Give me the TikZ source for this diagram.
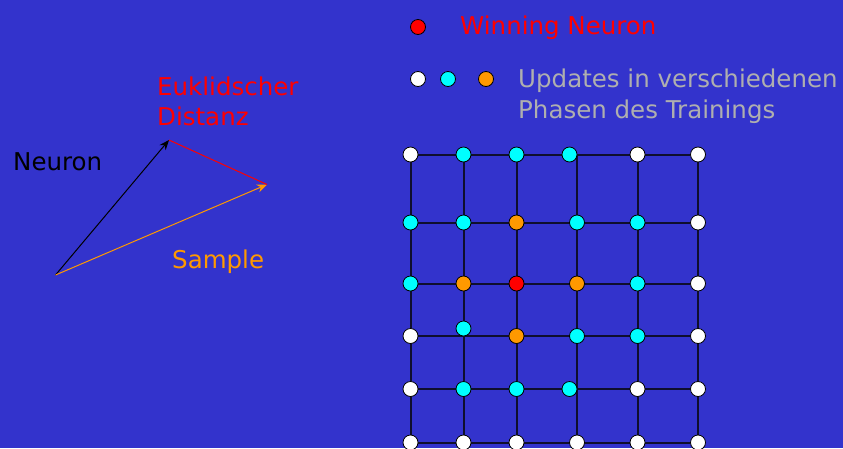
\documentclass[tikz,border=0pt]{standalone}
\usepackage{fontspec}
\setmainfont{DejaVu Sans}
\usetikzlibrary{arrows.meta}
\definecolor{bg}{RGB}{51,51,204}
\definecolor{gridc}{RGB}{15,15,45}
\definecolor{orng}{RGB}{255,153,0}
\definecolor{cyn}{RGB}{0,255,255}
\definecolor{txtgray}{RGB}{175,175,175}
\begin{document}
\begin{tikzpicture}[x=1pt,y=-1pt,
  neuron/.style={circle,draw=black,line width=0.8pt,minimum size=15pt,inner sep=0pt},
  wn/.style={neuron,fill=white},
  cn/.style={neuron,fill=cyn},
  on/.style={neuron,fill=orng},
  rn/.style={neuron,fill=red},
  gline/.style={draw=gridc,line width=2pt},
  lbl/.style={anchor=base west,inner sep=0pt,font=\fontsize{24.5}{28}\selectfont},
  vec/.style={line width=1pt,-{Stealth[length=10pt,width=8pt]}}]
\fill[bg] (0,0) rectangle (843,448);
\useasboundingbox (0,0) rectangle (843,448);
% legend
\node[rn] (lr) at (418,27) {};
\node[lbl,text=red] (lt1) at (460,34) {Winning Neuron};
\node[wn] (lw) at (418,79) {};
\node[cn] (lc) at (448,79) {};
\node[on] (lo) at (486,79) {};
\node[lbl,text=txtgray,align=left] (lt2) at (518,87) {Updates in verschiedenen};
\node[lbl,text=txtgray] (lt3) at (518,118) {Phasen des Trainings};
% vectors
\coordinate (o) at (55.5,275);
\coordinate (nt) at (169,140);
\coordinate (st) at (267,184.5);
\draw[vec,black] (o) -- (nt);
\draw[vec,orng] (o) -- (st);
\draw[red,line width=1pt] (nt) -- (st);
\node[lbl,text=red] (e1) at (157,95) {Euklidscher};
\node[lbl,text=red] (e2) at (157,125) {Distanz};
\node[lbl,text=black] (nl) at (13,170) {Neuron};
\node[lbl,text=orng] (sl) at (172,268) {Sample};
% grid coordinates
\foreach \c/\x in {1/410.5,2/463.5,3/516.5,4/577,5/637.5,6/698}{
  \foreach \r/\y in {1/154.5,2/222.5,3/283.5,4/336,5/389,6/442.5}{
    \coordinate (g\r\c) at (\x,\y);
  }
}
\foreach \r in {1,...,6}{\draw[gline] (g\r1) -- (g\r6);}
\foreach \c in {1,...,6}{\draw[gline] (g1\c) -- (g6\c);}
% row 1
\node[wn] (n11) at (g11) {};
\node[cn] (n12) at (g12) {};
\node[cn] (n13) at (g13) {};
\node[cn] (n14) at (569.5,154.5) {};
\node[wn] (n15) at (g15) {};
\node[wn] (n16) at (g16) {};
% row 2
\node[cn] (n21) at (g21) {};
\node[cn] (n22) at (g22) {};
\node[on] (n23) at (g23) {};
\node[cn] (n24) at (g24) {};
\node[cn] (n25) at (g25) {};
\node[wn] (n26) at (g26) {};
% row 3
\node[cn] (n31) at (g31) {};
\node[on] (n32) at (g32) {};
\node[rn] (n33) at (g33) {};
\node[on] (n34) at (g34) {};
\node[cn] (n35) at (g35) {};
\node[wn] (n36) at (g36) {};
% row 4
\node[wn] (n41) at (g41) {};
\node[cn] (n42) at (463.5,328.5) {};
\node[on] (n43) at (g43) {};
\node[cn] (n44) at (g44) {};
\node[cn] (n45) at (g45) {};
\node[wn] (n46) at (g46) {};
% row 5
\node[wn] (n51) at (g51) {};
\node[cn] (n52) at (g52) {};
\node[cn] (n53) at (g53) {};
\node[cn] (n54) at (569.5,389) {};
\node[wn] (n55) at (g55) {};
\node[wn] (n56) at (g56) {};
% row 6
\foreach \c in {1,...,6}{\node[wn] (n6\c) at (g6\c) {};}
\end{tikzpicture}
\end{document}
